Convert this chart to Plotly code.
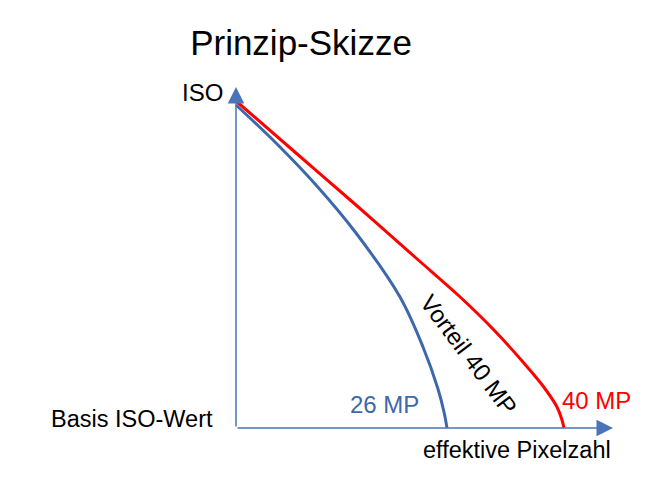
import plotly.graph_objects as go

# curve points (x: pixel count to the right of the origin, y: above it)
mp40_x = [0, 60, 120, 180, 222, 256, 287, 307, 321, 326, 328]
mp40_y = [327, 275, 223, 170, 133, 100, 66, 42, 21, 8, 0]

mp26_x = [0, 40, 80, 120, 164, 187, 202, 208, 211]
mp26_y = [323, 285, 243, 195, 131, 81, 39, 16, 0]

x_end = 377
y_end = 341

BLUE = "#3d68aa"
AXIS = "#4a74b8"
RED = "#ff0000"
FONT = "Liberation Sans, Arial, sans-serif"

# page body has an 8px margin, so the figure is 8px smaller and the ranges cover it edge to edge
W, H = 660, 480
x_range = [8 - 236, 668 - 236]
y_range = [428 - 488, 428 - 8]

fig = go.Figure()
fig.add_trace(go.Scatter(x=mp26_x, y=mp26_y, mode="lines", line=dict(color=BLUE, width=3, shape="spline"),
                         name="26 MP", hoverinfo="skip"))
fig.add_trace(go.Scatter(x=mp40_x, y=mp40_y, mode="lines", line=dict(color=RED, width=3, shape="spline"),
                         name="40 MP", hoverinfo="skip"))

# axes as arrows
for tip in [(x_end, 0), (0, y_end)]:
    fig.add_annotation(x=tip[0], y=tip[1], ax=0, ay=0, xref="x", yref="y", axref="x", ayref="y",
                       showarrow=True, arrowhead=2, arrowsize=2.2, arrowwidth=1.5, arrowcolor=AXIS, text="")

labels = [
    dict(text="ISO", x=-11, y=336, xanchor="right", size=24, color="black", angle=0),
    dict(text="Basis ISO-Wert", x=-21, y=9, xanchor="right", size=23.5, color="black", angle=0),
    dict(text="effektive Pixelzahl", x=377, y=-22, xanchor="right", size=23.5, color="black", angle=0),
    dict(text="26 MP", x=148, y=24, xanchor="center", size=24, color=BLUE, angle=0),
    dict(text="40 MP", x=360, y=28, xanchor="center", size=24, color=RED, angle=0),
    dict(text="Vorteil 40 MP", x=233, y=74, xanchor="center", size=24, color="black", angle=53),
]
for lab in labels:
    fig.add_annotation(x=lab["x"], y=lab["y"], xref="x", yref="y", text=lab["text"], showarrow=False,
                       xanchor=lab["xanchor"], yanchor="middle", textangle=lab["angle"],
                       font=dict(size=lab["size"], color=lab["color"], family=FONT))

fig.update_xaxes(visible=False, range=x_range)
fig.update_yaxes(visible=False, range=y_range)
fig.update_layout(
    title=dict(text="Prinzip-Skizze", x=(301 - 8) / W, xanchor="center", y=1 - (43 - 8) / H, yanchor="middle",
               font=dict(size=35, color="black", family=FONT)),
    width=W, height=H,
    margin=dict(l=0, r=0, t=0, b=0),
    plot_bgcolor="white", paper_bgcolor="white",
    showlegend=False,
)
fig.write_html("out.html")
